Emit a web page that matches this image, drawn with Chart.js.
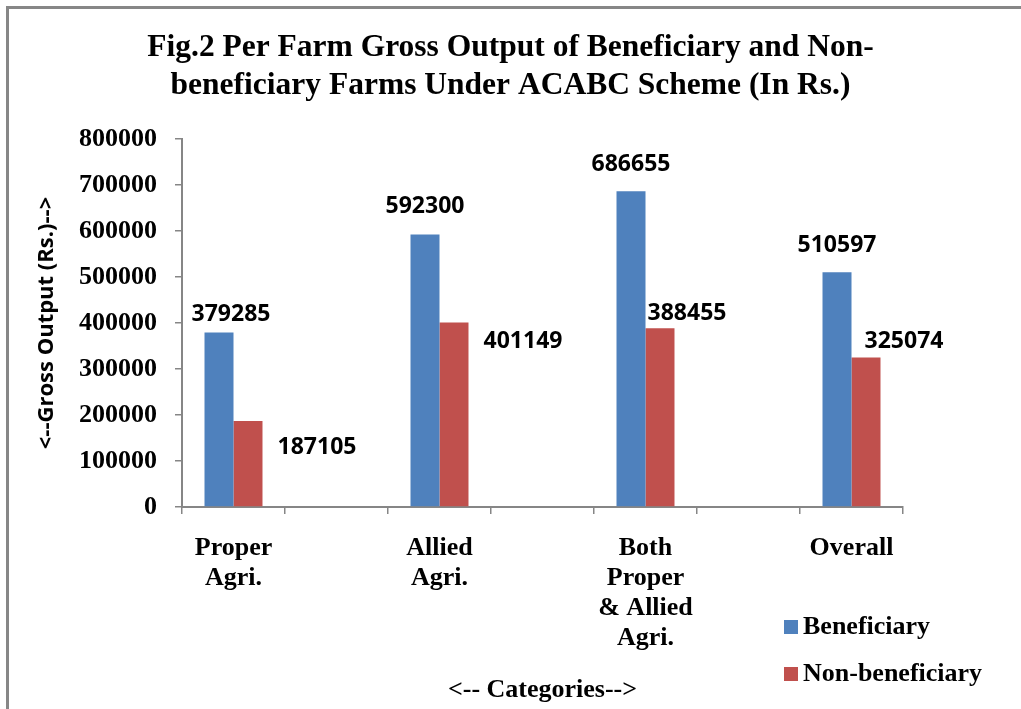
<html>

<head>
  <title>Fig.2 Per Farm Gross Output</title>
  <style>
    body {
      margin: 0;
      background: #ffffff;
      overflow: hidden;
    }

    #frame {
      position: absolute;
      left: 6px;
      top: 6px;
      width: 1100px;
      height: 800px;
      border: 3px solid #878787;
    }

    #myChart {
      position: absolute;
      left: 0;
      top: 0;
    }
  </style>
</head>

<body>
  <div id="frame"></div>
  <canvas id="myChart" width="1021" height="709"></canvas>

  <script src="https://cdn.jsdelivr.net/npm/chart.js"></script>
  <script>
    // values
    var categories = [['Proper', 'Agri.'], ['Allied', 'Agri.'], ['Both', 'Proper', '& Allied', 'Agri.'], 'Overall'];
    var beneficiary = [379285, 592300, 686655, 510597];
    var nonBeneficiary = [187105, 401149, 388455, 325074];
    var yTicks = [0, 100000, 200000, 300000, 400000, 500000, 600000, 700000, 800000];

    // the original leaves an empty slot between each group
    function spread(arr, blank) {
      var out = [];
      arr.forEach(function (v, i) {
        if (i > 0) out.push(blank);
        out.push(v);
      });
      return out;
    }

    // hand placed labels in the original: offset from the bar top
    var labelOffsets = [
      [[12, -18], [0, -28], [0, -27], [0, -27]],
      [[69, 27], [69, 19], [27, -15], [38, -16]]
    ];

    var serif = 'Liberation Serif';
    var sans = 'Open Sans';
    var axisColor = '#868686';

    var valueLabels = {
      id: 'valueLabels',
      afterDatasetsDraw: function (chart) {
        var ctx = chart.ctx;
        ctx.save();
        ctx.font = 'bold 23px "' + sans + '"';
        ctx.fillStyle = '#000';
        ctx.textAlign = 'center';
        ctx.textBaseline = 'middle';
        chart.data.datasets.forEach(function (ds, d) {
          var k = 0;
          chart.getDatasetMeta(d).data.forEach(function (bar, i) {
            if (ds.data[i] == null) return;
            var off = labelOffsets[d][k++];
            ctx.fillText(String(ds.data[i]), bar.x + off[0], bar.y + off[1]);
          });
        });
        ctx.restore();
      }
    };

    var sideLegend = {
      id: 'sideLegend',
      afterDraw: function (chart) {
        var ctx = chart.ctx;
        ctx.save();
        ctx.font = 'bold 26px "' + serif + '"';
        ctx.textBaseline = 'middle';
        ctx.textAlign = 'left';
        chart.data.datasets.forEach(function (ds, i) {
          var y = 627 + i * 47;
          ctx.fillStyle = ds.backgroundColor;
          ctx.fillRect(784, y - 7, 14, 14);
          ctx.fillStyle = '#000';
          ctx.fillText(ds.label, 803, y);
        });
        ctx.restore();
      }
    };

    var data = {
      labels: spread(categories, ''),
      datasets: [
        {
          label: 'Beneficiary',
          data: spread(beneficiary, null),
          backgroundColor: '#4F81BD'
        },
        {
          label: 'Non-beneficiary',
          data: spread(nonBeneficiary, null),
          backgroundColor: '#C0504D'
        }
      ]
    };

    var config = {
      type: 'bar',
      data: data,
      options: {
        responsive: false,
        animation: false,
        devicePixelRatio: 1,
        layout: {
          padding: 0
        },
        datasets: {
          bar: {
            categoryPercentage: 0.563,
            barPercentage: 1
          }
        },
        plugins: {
          legend: { display: false },
          tooltip: { enabled: false },
          title: {
            display: true,
            text: ['Fig.2 Per Farm Gross Output of Beneficiary and Non-', 'beneficiary Farms Under ACABC Scheme (In Rs.)'],
            color: '#000',
            font: { family: serif, size: 31.5, weight: 'bold', lineHeight: 38 / 31.5 },
            padding: { top: 29, bottom: 34 }
          }
        },
        scales: {
          x: {
            afterFit: function (scale) { scale.height = 202; },
            border: { color: axisColor, width: 2 },
            grid: { drawOnChartArea: false, color: axisColor, lineWidth: 1.5, tickLength: 7 },
            ticks: {
              color: '#000',
              padding: 19,
              maxRotation: 0,
              autoSkip: false,
              font: { family: serif, size: 26, weight: 'bold', lineHeight: 30 / 26 }
            },
            title: {
              display: true,
              text: '<-- Categories-->',
              color: '#000',
              font: { family: serif, size: 26, weight: 'bold', lineHeight: 30 / 26 },
              padding: { top: 0, bottom: 4 }
            }
          },
          y: {
            min: 0,
            max: 800000,
            afterFit: function (scale) { scale.width = 182; },
            afterBuildTicks: function (scale) {
              scale.ticks = yTicks.map(function (v) { return { value: v }; });
            },
            border: { color: axisColor, width: 2 },
            grid: { drawOnChartArea: false, color: axisColor, lineWidth: 1.5, tickLength: 7 },
            ticks: {
              color: '#000',
              padding: 18,
              callback: function (v) { return String(v); },
              font: { family: serif, size: 26, weight: 'bold' }
            },
            title: {
              display: true,
              text: '<--Gross Output (Rs.)-->',
              color: '#000',
              font: { family: sans, size: 22, weight: 'bold', lineHeight: 1.2 },
              padding: { top: 34, bottom: 0 }
            }
          },
          // empty strip on the right, keeps the plot narrower than the title
          spacer: {
            position: 'right',
            afterFit: function (scale) { scale.width = 118; },
            border: { display: false },
            grid: { display: false },
            ticks: { display: false }
          }
        }
      },
      plugins: [valueLabels, sideLegend]
    };

    var myChart = new Chart(document.getElementById('myChart'), config);
  </script>
</body>

</html>
